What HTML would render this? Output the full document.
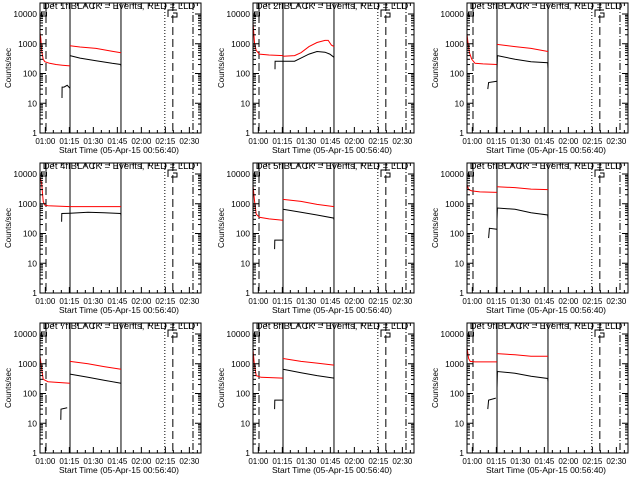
<!DOCTYPE html>
<html><head><meta charset="utf-8"><style>
html,body{margin:0;padding:0;background:#fff;width:640px;height:480px;overflow:hidden}
svg text{font-family:"Liberation Sans",sans-serif;fill:#000}
</style></head><body>
<svg id="c" width="640" height="480" viewBox="0 0 640 480" xmlns="http://www.w3.org/2000/svg"></svg>
<script>
const detNames = ["1f","2f","3f","4f","5f","6f","7f","8f","9f"];
const yTickVals = [1,10,100,1000,10000];
const yTickLabels = ["1","10","100","1000","10000"];
const xTickMins = [3.33,18.33,33.33,48.33,63.33,78.33,93.33];
const xTickLabels = ["01:00","01:15","01:30","01:45","02:00","02:15","02:30"];
const vLineMins = [3.75,18.75,50.6,78,83,95.6];
const vLineStyles = ["dashed","solid","solid","dotted","dashed","dashdot"];
// series: [minutes since 00:56:40, counts/sec]
const red1 = [
 [[0,2500],[0.5,1500],[1,600],[2,300],[3,250],[6,220],[10,200],[14,190],[18.7,180]],
 [[0,5000],[1,1000],[2,600],[4,450],[10,420],[18.7,400]],
 [[0,2200],[0.5,1200],[1.5,500],[3,300],[5,220],[10,210],[18.7,200]],
 [[0,8000],[1,5000],[2,1200],[3,900],[5,850],[18.7,800]],
 [[0,4000],[1,1200],[2,450],[4,350],[10,310],[18.7,280]],
 [[0,4500],[1,3000],[3,2700],[8,2500],[18.7,2400]],
 [[0,1800],[1,700],[2,300],[5,250],[18.7,220]],
 [[0,3000],[0.8,1000],[2,400],[5,350],[18.7,330]],
 [[0,3500],[1,1500],[2,1200],[5,1150],[18.7,1150]]
];
const red2 = [
 [[18.75,850],[25,780],[35,700],[45,560],[50.6,500]],
 [[18.75,380],[26,400],[30,500],[35,800],[40,1100],[45,1300],[47,1300],[49,900],[50.6,800]],
 [[18.75,950],[30,800],[40,700],[50.6,550]],
 [[18.75,800],[50.6,800]],
 [[18.75,1400],[30,1200],[40,950],[50.6,800]],
 [[18.75,3700],[30,3500],[40,3100],[50.6,3000]],
 [[18.75,1200],[30,1000],[40,800],[50.6,650]],
 [[18.75,1500],[30,1200],[40,1050],[50.6,900]],
 [[18.75,2200],[30,2000],[40,1800],[50.6,1800]]
];
const black1 = [
 [[13.75,15],[13.8,35],[15,35],[17,40],[18.7,32]],
 [[13.75,140],[13.8,260],[18.7,260]],
 [[13,30],[13.5,50],[18.7,55]],
 [[13.5,250],[13.6,470],[18.7,480]],
 [[13.5,30],[13.6,60],[18.7,60]],
 [[13.5,70],[14,150],[18.7,140]],
 [[13,13],[13.1,30],[17,33]],
 [[13.5,30],[13.6,60],[18.5,60]],
 [[13,30],[13.5,60],[18,70]]
];
const black2 = [
 [[18.75,400],[25,330],[35,270],[45,220],[50.4,200],[50.6,170]],
 [[18.75,260],[26,260],[30,330],[35,450],[40,550],[45,520],[48,450],[50.6,350]],
 [[18.75,130],[19,400],[30,300],[40,250],[50.4,230],[50.6,150]],
 [[18.75,480],[30,520],[40,500],[50.4,470],[50.6,400]],
 [[18.75,650],[30,520],[40,420],[50.4,330],[50.6,280]],
 [[18.75,300],[19,720],[30,650],[40,500],[50.4,420],[50.6,300]],
 [[18.75,450],[30,350],[40,280],[50.6,220]],
 [[18.75,650],[30,500],[40,400],[50.6,330]],
 [[18.75,150],[19,550],[30,480],[40,380],[50.4,320],[50.6,250]]
];
const NS="http://www.w3.org/2000/svg";
const svg=document.getElementById('c');
function mk(tag,attrs,parent){const e=document.createElementNS(NS,tag);for(const k in attrs)e.setAttribute(k,attrs[k]);parent.appendChild(e);return e;}
const colX=[0,213,427], rowY=[0,160,320];
const PW=161, PH=130, TMAX=100.6, LOGMAX=130/29.75;
for(let p=0;p<9;p++){
  const ox=colX[p%3]+40, oy=rowY[Math.floor(p/3)]+3;
  const xs=t=>ox+t/TMAX*PW;
  const ys=v=>oy+PH-Math.log10(v)/LOGMAX*PH;
  const g=mk('g',{},svg);
  
  
  vLineMins.forEach((m,i)=>{
    const st=vLineStyles[i];
    const a={x1:xs(m),x2:xs(m),y1:oy,y2:oy+PH,stroke:'#000','stroke-width':1};
    if(st==='dashed')a['stroke-dasharray']='8,4';
    if(st==='dotted')a['stroke-dasharray']='1,2';
    if(st==='dashdot')a['stroke-dasharray']='7,2,1,2';
    const l=mk('line',a,g);
    
    
  });
  const draw=(pts,col,name)=>{
    const d=pts.map((q,i)=>(i?'L':'M')+xs(q[0]).toFixed(1)+' '+ys(q[1]).toFixed(1)).join(' ');
    const pa=mk('path',{d:d,fill:'none',stroke:col,'stroke-width':1},g);
    
    
  };
  draw(red1[p],'#ff0000','lld-series-1');
  draw(red2[p],'#ff0000','lld-series-2');
  draw(black1[p],'#000','events-series-1');
  draw(black2[p],'#000','events-series-2');
  const fr=mk('rect',{x:ox,y:oy,width:PW,height:PH,fill:'none',stroke:'#000','stroke-width':1},g);
  
  
  yTickVals.forEach((v,i)=>{
    const y=ys(v);
    mk('line',{x1:ox,x2:ox+6,y1:y,y2:y,stroke:'#000'},g);
    mk('line',{x1:ox+PW-6,x2:ox+PW,y1:y,y2:y,stroke:'#000'},g);
    const t=mk('text',{x:ox-3,y:y+3,'text-anchor':'end',style:'font-size:8.5px'},g);
    t.textContent=yTickLabels[i];
    
    
    if(v<10000) for(let k=2;k<10;k++){const yy=ys(v*k);if(yy<oy)break;
      mk('line',{x1:ox,x2:ox+3,y1:yy,y2:yy,stroke:'#000'},g);
      mk('line',{x1:ox+PW-3,x2:ox+PW,y1:yy,y2:yy,stroke:'#000'},g);}
  });
  xTickMins.forEach((m,i)=>{
    const x=xs(m);
    mk('line',{x1:x,x2:x,y1:oy+PH,y2:oy+PH-6,stroke:'#000'},g);
    mk('line',{x1:x,x2:x,y1:oy,y2:oy+6,stroke:'#000'},g);
    for(let k=1;k<3;k++){const xm=xs(m+5*k);if(xm<ox+PW){
      mk('line',{x1:xm,x2:xm,y1:oy+PH,y2:oy+PH-3,stroke:'#000'},g);
      mk('line',{x1:xm,x2:xm,y1:oy,y2:oy+3,stroke:'#000'},g);}}
    const t=mk('text',{x:x,y:oy+PH+11,'text-anchor':'middle',style:'font-size:8px'},g);
    t.textContent=xTickLabels[i];
    
    
  });
  const sq=mk('rect',{x:ox+1.5,y:oy+9,width:5,height:4,fill:'none',stroke:'#000'},g);
  
  
  const es=mk('path',{d:`M${ox+128} ${oy+14} V${oy+7} H${ox+137} M${ox+133} ${oy+7} V${oy+2} M${ox+133} ${oy+10} H${ox+137} V${oy+14} H${ox+131}`,fill:'none',stroke:'#000'},g);
  
  
  const ti=mk('text',{x:ox+79,y:oy+6,'text-anchor':'middle',style:'font-size:9.5px'},g);
  ti.textContent='Det '+detNames[p]+' BLACK = Events, RED = LLD';
  
  
  const xt=mk('text',{x:ox+79,y:oy+PH+20,'text-anchor':'middle',style:'font-size:8.5px'},g);
  xt.textContent='Start Time (05-Apr-15 00:56:40)';
  
  
  const yt=mk('text',{x:0,y:0,'text-anchor':'middle',style:'font-size:8px',transform:`translate(${ox-29},${oy+65}) rotate(-90)`},g);
  yt.textContent='Counts/sec';
  
  
}
</script>
</body></html>
